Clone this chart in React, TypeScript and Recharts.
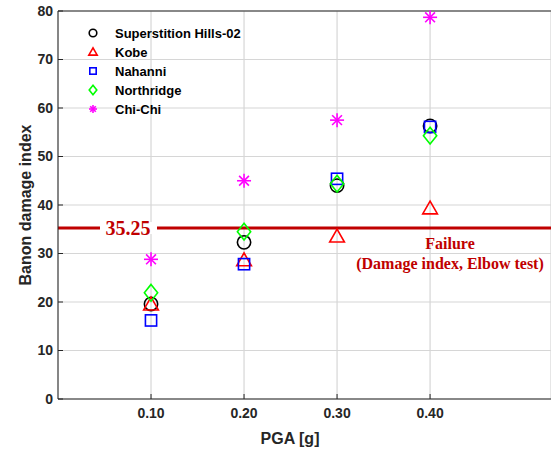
import {
  CartesianGrid,
  Legend,
  ReferenceLine,
  Scatter,
  ScatterChart,
  XAxis,
  YAxis,
} from "recharts";

const pga = [0.1, 0.2, 0.3, 0.4];
const superstition = [19.6, 32.3, 44.0, 56.3];
const kobe = [19.5, 28.6, 33.5, 39.3];
const nahanni = [16.2, 27.8, 45.4, 56.1];
const northridge = [21.9, 34.5, 44.4, 54.3];
const chiChi = [28.8, 45.0, 57.5, 78.7];
const xTicks = [0.1, 0.2, 0.3, 0.4];
const yTicks = [0, 10, 20, 30, 40, 50, 60, 70, 80];
const failureLimit = 35.25;

const SANS = "'Liberation Sans', Arial, sans-serif";
const SERIF = "'Liberation Serif', 'Times New Roman', serif";
const AXIS_TEXT = "#262626";
const LIMIT_RED = "#c00000";

type MarkerKind = "circle" | "triangle" | "square" | "diamond" | "asterisk";

const series: { name: string; values: number[]; color: string; kind: MarkerKind }[] = [
  { name: "Superstition Hills-02", values: superstition, color: "#000000", kind: "circle" },
  { name: "Kobe", values: kobe, color: "#ff0000", kind: "triangle" },
  { name: "Nahanni", values: nahanni, color: "#0000ff", kind: "square" },
  { name: "Northridge", values: northridge, color: "#00ff00", kind: "diamond" },
  { name: "Chi-Chi", values: chiChi, color: "#ff00ff", kind: "asterisk" },
];

const toPoints = (values: number[]) => pga.map((x, i) => ({ x, y: values[i] }));

const Marker = ({ cx, cy, kind, color, s }: { cx: number; cy: number; kind: MarkerKind; color: string; s: number }) => {
  const sw = 1.6;
  if (kind === "circle") return <circle cx={cx} cy={cy} r={s * 0.95} fill="none" stroke={color} strokeWidth={sw} />;
  if (kind === "square")
    return <rect x={cx - s * 0.8} y={cy - s * 0.8} width={s * 1.6} height={s * 1.6} fill="none" stroke={color} strokeWidth={sw} />;
  if (kind === "triangle") {
    const h = s * 1.05;
    return (
      <polygon
        points={`${cx},${cy - h} ${cx - h},${cy + h * 0.75} ${cx + h},${cy + h * 0.75}`}
        fill="none"
        stroke={color}
        strokeWidth={sw}
      />
    );
  }
  if (kind === "diamond") {
    const w = s * 0.95;
    const h = s * 1.2;
    return (
      <polygon
        points={`${cx},${cy - h} ${cx + w},${cy} ${cx},${cy + h} ${cx - w},${cy}`}
        fill="none"
        stroke={color}
        strokeWidth={sw}
      />
    );
  }
  const r = s;
  const d = r * 0.7;
  return (
    <g stroke={color} strokeWidth={sw}>
      <line x1={cx - r} y1={cy} x2={cx + r} y2={cy} />
      <line x1={cx} y1={cy - r} x2={cx} y2={cy + r} />
      <line x1={cx - d} y1={cy - d} x2={cx + d} y2={cy + d} />
      <line x1={cx - d} y1={cy + d} x2={cx + d} y2={cy - d} />
    </g>
  );
};

const LegendBox = () => (
  <svg width={180} height={100}>
    {series.map((s, i) => (
      <g key={s.name}>
        <Marker cx={8} cy={8 + i * 19} kind={s.kind} color={s.color} s={4} />
        <text
          x={30}
          y={8 + i * 19}
          dy="0.35em"
          fontFamily={SANS}
          fontWeight="bold"
          fontSize={13}
          fill="#000"
        >
          {s.name}
        </text>
      </g>
    ))}
  </svg>
);

const LimitLabel = ({ viewBox }: any) => {
  const y = viewBox.y;
  return (
    <g>
      <rect x={100} y={y - 6} width={57} height={12} fill="#fff" />
      <text x={128} y={y} dy="0.35em" textAnchor="middle" fontFamily={SERIF} fontWeight="bold" fontSize={20} fill={LIMIT_RED}>
        {failureLimit.toFixed(2)}
      </text>
      <text x={450} y={y + 21} textAnchor="middle" fontFamily={SERIF} fontWeight="bold" fontSize={16} fill={LIMIT_RED}>
        Failure
      </text>
      <text x={450} y={y + 41} textAnchor="middle" fontFamily={SERIF} fontWeight="bold" fontSize={16} fill={LIMIT_RED}>
        (Damage index, Elbow test)
      </text>
    </g>
  );
};

export default function App() {
  return (
    <div style={{ position: "absolute", left: 0, top: 0, background: "#fff" }}>
      <ScatterChart width={551} height={450} margin={{ top: 11, right: 0, bottom: 0, left: 0 }}>
        <CartesianGrid stroke="#d6d6d6" strokeWidth={1.2} />
        <XAxis
          type="number"
          dataKey="x"
          domain={[0, 0.53]}
          ticks={xTicks}
          tickFormatter={(v: number) => v.toFixed(2)}
          height={51}
          stroke="#262626"
          tickSize={-5}
          tickMargin={14}
          tick={{ fill: AXIS_TEXT, fontFamily: SANS, fontWeight: "bold", fontSize: 14 }}
          label={() => (
            <text x={290} y={444} textAnchor="middle" fontFamily={SANS} fontWeight="bold" fontSize={16} fill={AXIS_TEXT}>
              PGA [g]
            </text>
          )}
        />
        <YAxis
          type="number"
          dataKey="y"
          domain={[0, 80]}
          ticks={yTicks}
          width={58}
          stroke="#262626"
          tickSize={-5}
          tickMargin={10}
          tick={{ fill: AXIS_TEXT, fontFamily: SANS, fontWeight: "bold", fontSize: 14 }}
          label={() => (
            <text
              x={25}
              y={205}
              transform="rotate(-90 25 205)"
              textAnchor="middle"
              dy="0.35em"
              fontFamily={SANS}
              fontWeight="bold"
              fontSize={16}
              fill={AXIS_TEXT}
            >
              Banon damage index
            </text>
          )}
        />
        <ReferenceLine y={80} stroke="#262626" strokeWidth={1} />
        <ReferenceLine y={failureLimit} stroke={LIMIT_RED} strokeWidth={3} label={LimitLabel} />
        {series.map((s) => (
          <Scatter
            key={s.name}
            name={s.name}
            data={toPoints(s.values)}
            isAnimationActive={false}
            shape={(p: any) => <Marker cx={p.cx} cy={p.cy} kind={s.kind} color={s.color} s={7} />}
          />
        ))}
        <Legend
          layout="horizontal"
          verticalAlign="middle"
          align="center"
          wrapperStyle={{ top: 25, left: 85, width: 180 }}
          content={() => <LegendBox />}
        />
      </ScatterChart>
    </div>
  );
}
